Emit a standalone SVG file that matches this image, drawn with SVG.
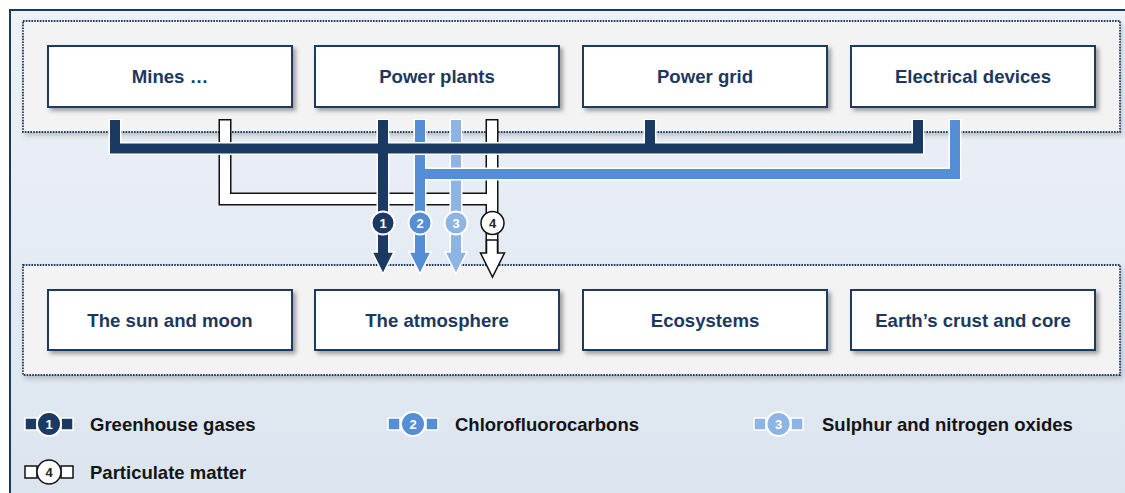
<svg xmlns="http://www.w3.org/2000/svg" width="1125" height="493" viewBox="0 0 1125 493">
<defs>
<linearGradient id="bg" x1="0" y1="0" x2="0" y2="1">
<stop offset="0" stop-color="#EEF2F8"/>
<stop offset="1" stop-color="#DBE4EF"/>
</linearGradient>
<filter id="sh" x="-10%" y="-20%" width="130%" height="160%">
<feDropShadow dx="3" dy="3" stdDeviation="2" flood-color="#000" flood-opacity="0.35"/>
</filter>
<filter id="sh2" x="-5%" y="-10%" width="110%" height="130%">
<feDropShadow dx="2" dy="3" stdDeviation="2.5" flood-color="#000" flood-opacity="0.2"/>
</filter>
<style>
.node rect{fill:#fff;stroke:#1B3A63;stroke-width:2;filter:url(#sh)}
.node text{font-family:"Liberation Sans",Arial,sans-serif;font-weight:bold;font-size:18.6px;fill:#1C3860;text-anchor:middle}
.cont{fill:#F3F3F3;stroke:#1B3A63;stroke-width:1.8;stroke-dasharray:1.6 1.2;filter:url(#sh2)}
.halo{fill:none;stroke:#fff;stroke-width:13;stroke-linejoin:miter}
.ln{fill:none;stroke-width:10;stroke-linejoin:miter}
.navy{stroke:#1B3A63}
.mid{stroke:#558ED5}
.lt{stroke:#8DB4E2}
.num{font-family:"Liberation Sans",Arial,sans-serif;font-weight:bold;font-size:13px;text-anchor:middle}
.leg{font-family:"Liberation Sans",Arial,sans-serif;font-weight:bold;font-size:18.5px;fill:#141414}
</style>
</defs>
<rect x="0" y="0" width="1125" height="493" fill="#fff"/>
<rect x="10" y="10" width="1130" height="500" fill="url(#bg)" stroke="#1B3A63" stroke-width="2"/>
<rect class="cont" x="23" y="21" width="1097" height="111"/>
<rect class="cont" x="23" y="265" width="1097" height="110"/>

<g id="connectors">
<!-- particulate matter -->
<path d="M225,119 V199 H492 M492,119 V256" fill="none" stroke="#111" stroke-width="13" stroke-linejoin="miter"/>
<path d="M225,120.5 V199 H492 M492,120.5 V256" fill="none" stroke="#fff" stroke-width="10" stroke-linejoin="miter"/>
<polygon points="486.5,240 497.5,240 497.5,253 504.5,253 492.5,277 480.5,253 486.5,253" fill="#fff" stroke="#111" stroke-width="1.5" stroke-linejoin="miter"/>
<!-- sulphur & nitrogen oxides -->
<path class="halo" d="M456,119 V254"/>
<path class="ln lt" d="M456,120 V254"/>
<!-- CFCs -->
<path class="halo" d="M955,119 V174 H420 M420,119 V254"/>
<path class="ln mid" d="M955,120 V174 H420 M420,120 V254"/>
<!-- greenhouse gases -->
<path class="halo" d="M115,119 V148.5 H918 V119 M650,119 V148.5 M383,119 V254"/>
<path class="ln navy" d="M115,120 V148.5 H918 V120 M650,120 V148.5 M383,120 V254"/>
<polygon points="372,252 394,252 383,274" fill="#1B3A63" stroke="#fff" stroke-width="1.5"/>
<polygon points="409,252 431,252 420,274" fill="#558ED5" stroke="#fff" stroke-width="1.5"/>
<polygon points="445,252 467,252 456,274" fill="#8DB4E2" stroke="#fff" stroke-width="1.5"/>
<rect x="378" y="240" width="10" height="14" fill="#1B3A63"/>
<rect x="415" y="240" width="10" height="14" fill="#558ED5"/>
<rect x="451" y="240" width="10" height="14" fill="#8DB4E2"/>
<circle cx="383" cy="223" r="11.5" fill="#1B3A63" stroke="#fff" stroke-width="2"/>
<text class="num" x="383" y="227.5" fill="#fff">1</text>
<circle cx="420" cy="223" r="11.5" fill="#558ED5" stroke="#fff" stroke-width="2"/>
<text class="num" x="420" y="227.5" fill="#fff">2</text>
<circle cx="456" cy="223" r="11.5" fill="#8DB4E2" stroke="#fff" stroke-width="2"/>
<text class="num" x="456" y="227.5" fill="#fff">3</text>
<circle cx="492.5" cy="223" r="11.5" fill="#fff" stroke="#111" stroke-width="1.5"/>
<text class="num" x="492.5" y="227.5" fill="#222">4</text>
</g>

<g id="mines" class="node"><rect x="48" y="46" width="244" height="61"/><text x="170" y="83">Mines …</text></g>
<g id="power-plants" class="node"><rect x="315" y="46" width="244" height="61"/><text x="437" y="83">Power plants</text></g>
<g id="power-grid" class="node"><rect x="583" y="46" width="244" height="61"/><text x="705" y="83">Power grid</text></g>
<g id="electrical-devices" class="node"><rect x="851" y="46" width="244" height="61"/><text x="973" y="83">Electrical devices</text></g>

<g id="sun-moon" class="node"><rect x="48" y="290" width="244" height="60"/><text x="170" y="327">The sun and moon</text></g>
<g id="atmosphere" class="node"><rect x="315" y="290" width="244" height="60"/><text x="437" y="327">The atmosphere</text></g>
<g id="ecosystems" class="node"><rect x="583" y="290" width="244" height="60"/><text x="705" y="327">Ecosystems</text></g>
<g id="crust-core" class="node"><rect x="851" y="290" width="244" height="60"/><text x="973" y="327">Earth’s crust and core</text></g>

<g id="legend">
<g id="leg1">
<rect x="25" y="418" width="12" height="12" fill="#1B3A63" stroke="#fff" stroke-width="1.5"/>
<rect x="61" y="418" width="12" height="12" fill="#1B3A63" stroke="#fff" stroke-width="1.5"/>
<circle cx="49" cy="424" r="12" fill="#1B3A63" stroke="#fff" stroke-width="2"/>
<text class="num" x="49" y="428.5" fill="#fff">1</text>
<text class="leg" x="90" y="431">Greenhouse gases</text>
</g>
<g id="leg2">
<rect x="388" y="418" width="12" height="12" fill="#558ED5" stroke="#fff" stroke-width="1.5"/>
<rect x="426" y="418" width="12" height="12" fill="#558ED5" stroke="#fff" stroke-width="1.5"/>
<circle cx="413" cy="424" r="12" fill="#558ED5" stroke="#fff" stroke-width="2"/>
<text class="num" x="413" y="428.5" fill="#fff">2</text>
<text class="leg" x="455" y="431">Chlorofluorocarbons</text>
</g>
<g id="leg3">
<rect x="754" y="418" width="12" height="12" fill="#8DB4E2" stroke="#fff" stroke-width="1.5"/>
<rect x="791" y="418" width="12" height="12" fill="#8DB4E2" stroke="#fff" stroke-width="1.5"/>
<circle cx="778.5" cy="424" r="12" fill="#8DB4E2" stroke="#fff" stroke-width="2"/>
<text class="num" x="778.5" y="428.5" fill="#fff">3</text>
<text class="leg" x="822" y="431">Sulphur and nitrogen oxides</text>
</g>
<g id="leg4">
<rect x="25" y="466" width="12" height="12" fill="#fff" stroke="#111" stroke-width="1.5"/>
<rect x="61" y="466" width="12" height="12" fill="#fff" stroke="#111" stroke-width="1.5"/>
<circle cx="49" cy="472" r="12" fill="#fff" stroke="#111" stroke-width="1.5"/>
<text class="num" x="49" y="476.5" fill="#222">4</text>
<text class="leg" x="90" y="479">Particulate matter</text>
</g>
</g>
</svg>
